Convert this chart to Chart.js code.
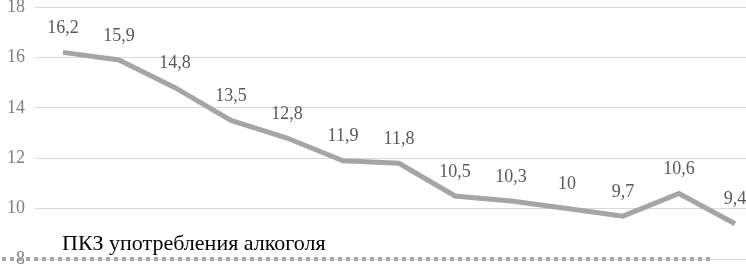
<!DOCTYPE html>
<html>
<head>
<meta charset="utf-8">
<script src="https://cdn.jsdelivr.net/npm/chart.js@4/dist/chart.umd.min.js"></script>
<style>
html,body{margin:0;padding:0;background:#fff;overflow:hidden;}
#wrap{position:relative;width:763px;height:271px;}
</style>
</head>
<body>
<div id="wrap"><canvas id="c"></canvas></div>
<script>
const categories = ["2006","2007","2008","2009","2010","2011","2012","2013","2014","2015","2016","2017","2018"];
const seriesName = "ПКЗ употребления алкоголя";
const values = [16.2, 15.9, 14.8, 13.5, 12.8, 11.9, 11.8, 10.5, 10.3, 10, 9.7, 10.6, 9.4];
const yTicks = [8, 10, 12, 14, 16, 18];

const labelsPlugin = {
  id: 'pointLabels',
  afterDatasetsDraw(chart) {
    const ctx = chart.ctx;
    const meta = chart.getDatasetMeta(0);
    ctx.save();
    ctx.font = '18px "Liberation Serif"';
    ctx.fillStyle = '#595959';
    ctx.textAlign = 'center';
    ctx.textBaseline = 'middle';
    meta.data.forEach((pt, i) => {
      ctx.fillText(String(values[i]).replace('.', ','), pt.x, pt.y - 24);
    });
    ctx.restore();
  }
};

const legendPlugin = {
  id: 'bottomLegend',
  afterDraw(chart) {
    const ctx = chart.ctx;
    const y = chart.scales.y.getPixelForValue(yTicks[0]);
    ctx.save();
    ctx.strokeStyle = '#a5a5a5';
    ctx.lineWidth = 4;
    ctx.setLineDash([4, 4]);
    ctx.beginPath();
    ctx.moveTo(2, y);
    ctx.lineTo(710, y);
    ctx.stroke();
    ctx.setLineDash([]);
    ctx.font = '22px "Liberation Serif"';
    ctx.fillStyle = '#000000';
    ctx.textAlign = 'left';
    ctx.textBaseline = 'middle';
    ctx.fillText(seriesName, 62, y - 15);
    ctx.restore();
  }
};

new Chart(document.getElementById('c'), {
  type: 'line',
  data: {
    labels: categories,
    datasets: [{
      label: seriesName,
      data: values,
      borderColor: '#a5a5a5',
      borderWidth: 5,
      pointRadius: 0,
      tension: 0,
      fill: false
    }]
  },
  options: {
    responsive: true,
    maintainAspectRatio: false,
    animation: false,
    layout: { padding: { top: 7, bottom: 12, left: 0, right: 0 } },
    plugins: { legend: { display: false }, tooltip: { enabled: false } },
    scales: {
      x: { display: false, offset: true },
      y: {
        min: 8, max: 18,
        afterFit(scale) { scale.width = 35; scale.paddingTop = 0; scale.paddingBottom = 0; },
        afterBuildTicks(scale) { scale.ticks = yTicks.map(v => ({ value: v })); },
        border: { display: false },
        grid: { color: '#d9d9d9', lineWidth: 1, drawTicks: false },
        ticks: {
          padding: 10,
          color: '#7f7f7f',
          font: { family: 'Liberation Serif', size: 18 }
        }
      }
    }
  },
  plugins: [labelsPlugin, legendPlugin]
});
</script>
</body>
</html>
